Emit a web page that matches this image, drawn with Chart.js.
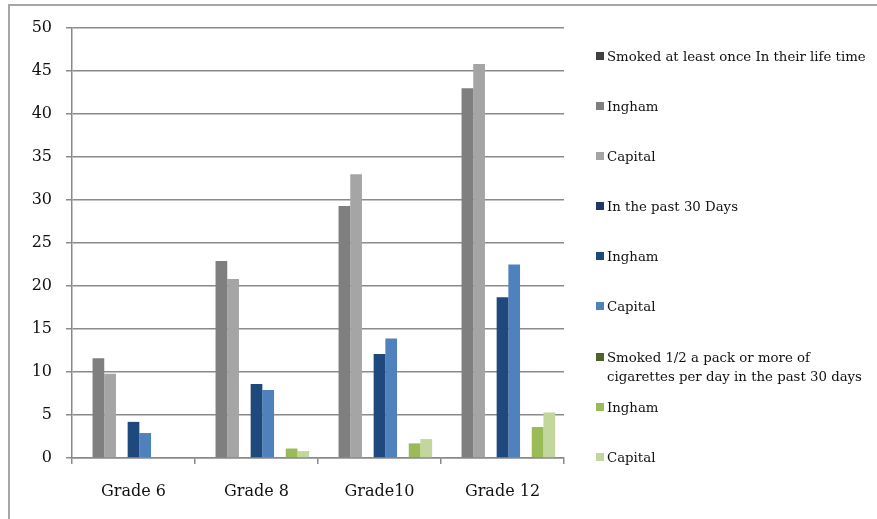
<!DOCTYPE html>
<html>
<head>
<meta charset="utf-8">
<script src="https://cdn.jsdelivr.net/npm/chart.js@4/dist/chart.umd.min.js"></script>
<style>
  html, body { margin: 0; padding: 0; background: #fff; overflow: hidden; }
  #wrap { position: relative; width: 877px; height: 519px; }
  #frame { position: absolute; left: 8px; top: 4px; width: 900px; height: 600px;
           border-left: 2px solid #a6a6a6; border-top: 2px solid #a6a6a6; box-sizing: border-box; }
  #legend { position: absolute; left: 596px; top: 47px; width: 272px;
            font-family: "DejaVu Serif", serif; font-size: 13.3px; color: #111; }
  #legend .item { height: 50.1px; position: relative; padding-left: 11px; line-height: 19px; }
  #legend .box { position: absolute; left: 0; top: 5px; width: 8px; height: 8px; }
</style>
</head>
<body>
<div id="wrap">
  <div id="frame"></div>
  <canvas id="chart" width="877" height="519"></canvas>
  <div id="legend"></div>
</div>
<script>
// categories
var grades = ['Grade 6', 'Grade 8', 'Grade10', 'Grade 12'];

// series (header entries carry no values, as in the original sheet)
var seriesNames = [
    'Smoked at least once In their life time',
    'Ingham',
    'Capital',
    'In the past 30 Days',
    'Ingham',
    'Capital',
    'Smoked 1/2 a pack or more of cigarettes per day in the past 30 days',
    'Ingham',
    'Capital'
];
var lifetimeHeader = [null, null, null, null];
var lifetimeIngham = [11.6, 22.9, 29.3, 43.0];
var lifetimeCapital = [9.8, 20.8, 33.0, 45.8];
var past30Header = [null, null, null, null];
var past30Ingham = [4.2, 8.6, 12.1, 18.7];
var past30Capital = [2.9, 7.9, 13.9, 22.5];
var halfPackHeader = [null, null, null, null];
var halfPackIngham = [0, 1.1, 1.7, 3.6];
var halfPackCapital = [0, 0.8, 2.2, 5.3];

var yTicks = [0, 5, 10, 15, 20, 25, 30, 35, 40, 45, 50];

var seriesData = [lifetimeHeader, lifetimeIngham, lifetimeCapital,
                  past30Header, past30Ingham, past30Capital,
                  halfPackHeader, halfPackIngham, halfPackCapital];
var colors = ['#404040', '#7f7f7f', '#a5a5a5',
              '#1f3864', '#1f497d', '#4f81bd',
              '#4f6228', '#9bbb59', '#c3d69b'];

var datasets = [];
for (var i = 0; i < seriesNames.length; ++i) {
    datasets.push({
        label: seriesNames[i],
        data: seriesData[i],
        backgroundColor: colors[i],
        borderWidth: 0,
        categoryPercentage: 0.856,
        barPercentage: 1.0
    });
}

var axisFont = { family: '"DejaVu Serif", serif', size: 16 };

var ctx = document.getElementById('chart');
var chart = new Chart(ctx, {
    type: 'bar',
    data: { labels: grades, datasets: datasets },
    options: {
        responsive: false,
        animation: false,
        layout: { padding: { top: 28, right: 313, left: 0, bottom: 0 } },
        plugins: {
            legend: { display: false },
            tooltip: { enabled: false }
        },
        scales: {
            x: {
                grid: { offset: true, drawOnChartArea: false, drawTicks: true, tickLength: 6,
                        color: '#8a8a8a', lineWidth: 1.5 },
                border: { color: '#8a8a8a', width: 1.5 },
                ticks: { color: '#111', font: axisFont, padding: 18, maxRotation: 0 },
                afterFit: function(scale) { scale.height = 61; }
            },
            y: {
                min: 0,
                max: 50,
                afterBuildTicks: function(scale) {
                    scale.ticks = yTicks.map(function(v) { return { value: v }; });
                },
                grid: { color: '#8a8a8a', lineWidth: 1.5, tickLength: 6 },
                border: { color: '#8a8a8a', width: 1.5 },
                ticks: { color: '#111', font: axisFont, padding: 14 },
                afterFit: function(scale) { scale.width = 72; }
            }
        }
    }
});

// html legend built from the datasets
var legendEl = document.getElementById('legend');
chart.data.datasets.forEach(function(ds) {
    var item = document.createElement('div');
    item.className = 'item';
    var box = document.createElement('span');
    box.className = 'box';
    box.style.background = ds.backgroundColor;
    item.appendChild(box);
    item.appendChild(document.createTextNode(ds.label));
    legendEl.appendChild(item);
});
</script>
</body>
</html>
